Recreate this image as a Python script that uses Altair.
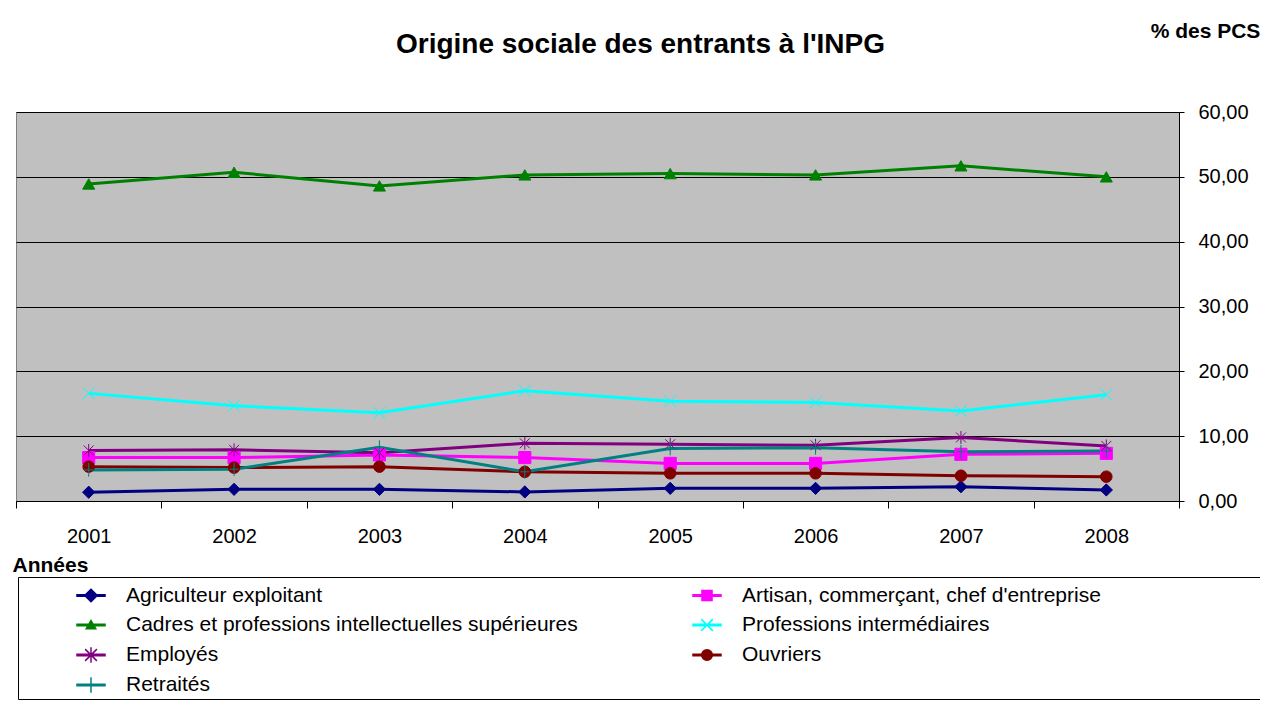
import altair as alt
import pandas as pd

annees = ["2001", "2002", "2003", "2004", "2005", "2006", "2007", "2008"]
series = [
    "Agriculteur exploitant",
    "Artisan, commerçant, chef d'entreprise",
    "Cadres et professions intellectuelles supérieures",
    "Professions intermédiaires",
    "Employés",
    "Ouvriers",
    "Retraités",
]
agriculteur = [1.35, 1.80, 1.80, 1.40, 1.95, 1.95, 2.20, 1.70]
artisan = [6.70, 6.70, 7.10, 6.70, 5.80, 5.80, 7.20, 7.35]
cadres = [48.90, 50.70, 48.60, 50.30, 50.50, 50.30, 51.70, 50.00]
prof_inter = [16.60, 14.70, 13.60, 17.00, 15.40, 15.20, 13.90, 16.40]
employes = [7.80, 7.90, 7.45, 8.90, 8.75, 8.60, 9.80, 8.50]
ouvriers = [5.30, 5.15, 5.30, 4.50, 4.27, 4.27, 3.90, 3.75]
retraites = [4.80, 4.90, 8.30, 4.50, 8.10, 8.20, 7.60, 7.70]

valeurs = [agriculteur, artisan, cadres, prof_inter, employes, ouvriers, retraites]
couleurs = ["#000080", "#FF00FF", "#008000", "#00FFFF", "#800080", "#800000", "#008080"]
remplissage = ["#000080", "#FF00FF", "#008000", "transparent", "transparent", "#800000", "transparent"]

formes = [
    "diamond",
    "square",
    "triangle-up",
    "M-1,-1L1,1M-1,1L1,-1",
    "M-0.85,-0.85L0.85,0.85M-0.85,0.85L0.85,-0.85M0,-1.1V1.1",
    "circle",
    "M-0.8,0H0.8M0,-1.2V1.2",
]
tailles = [150, 130, 110, 170, 190, 150, 190]
epaisseurs = [1, 1, 1, 1.5, 1.5, 1, 1.5]

trait = "M-1,-0.06H1V0.06H-1Z"
formes_legende = [
    trait + "M0,-0.45L0.45,0L0,0.45L-0.45,0Z",
    trait + "M-0.36,-0.36H0.36V0.36H-0.36Z",
    trait + "M0,-0.32L0.34,0.26H-0.34Z",
    trait + "M-0.42,-0.42L0.42,0.42M-0.42,0.42L0.42,-0.42",
    trait + "M-0.42,-0.42L0.42,0.42M-0.42,0.42L0.42,-0.42M0,-0.55V0.55",
    trait + "M-0.38,0A0.38,0.38,0,1,0,0.38,0A0.38,0.38,0,1,0,-0.38,0Z",
    trait + "M0,-0.55V0.55",
]

# legend is filled column by column: reorder so it reads row by row
ordre_legende = [0, 2, 4, 6, 1, 3, 5]
series_leg = [series[i] for i in ordre_legende]
couleurs_leg = [couleurs[i] for i in ordre_legende]
formes_leg = [formes_legende[i] for i in ordre_legende]

rows = []
for s, vals in zip(series, valeurs):
    for a, v in zip(annees, vals):
        rows.append({"annee": a, "valeur": v, "serie": s, "lg": s})
df = pd.DataFrame(rows)

FONT = "Liberation Sans"

x_enc = alt.X(
    "annee:O",
    sort=annees,
    scale=alt.Scale(type="band", paddingInner=0, paddingOuter=0),
    axis=alt.Axis(
        title="Années",
        titleX=-4,
        titleY=70,
        titleAlign="left",
        titleAnchor="start",
        titleBaseline="alphabetic",
        titleFontSize=21,
        titleFontWeight="bold",
        titleColor="black",
        labelAngle=0,
        labelFontSize=20,
        labelColor="black",
        labelPadding=18,
        tickBand="extent",
        tickSize=7,
        tickColor="black",
        domainColor="black",
        grid=False,
    ),
)
y_enc = alt.Y(
    "valeur:Q",
    scale=alt.Scale(domain=[0, 60]),
    axis=alt.Axis(
        orient="right",
        values=[0, 10, 20, 30, 40, 50, 60],
        grid=True,
        gridColor="black",
        gridWidth=1,
        domainColor="black",
        tickColor="black",
        tickSize=5,
        labelFontSize=20,
        labelColor="black",
        labelPadding=14,
        labelExpr="replace(format(datum.value, '.2f'), '.', ',')",
        title="% des PCS",
        titleAngle=0,
        titleX=26,
        titleY=-75,
        titleAlign="center",
        titleBaseline="alphabetic",
        titleFontSize=21,
        titleFontWeight="bold",
        titleColor="black",
    ),
)

base = alt.Chart(df).encode(x=x_enc, y=y_enc)

lignes = base.mark_line(strokeWidth=3).encode(
    color=alt.Color("serie:N", scale=alt.Scale(domain=series, range=couleurs), legend=None)
)

points = base.mark_point(opacity=1).encode(
    fill=alt.Fill("serie:N", scale=alt.Scale(domain=series, range=remplissage), legend=None),
    stroke=alt.Stroke("serie:N", scale=alt.Scale(domain=series, range=couleurs), legend=None),
    shape=alt.Shape("serie:N", scale=alt.Scale(domain=series, range=formes), legend=None),
    size=alt.Size("serie:N", scale=alt.Scale(domain=series, range=tailles), legend=None),
    strokeWidth=alt.StrokeWidth("serie:N", scale=alt.Scale(domain=series, range=epaisseurs), legend=None),
)

leg = alt.Legend(
    title="\u00a0",
    titleOrient="right",
    titleFontSize=1,
    titlePadding=185,
    orient="none",
    legendX=2,
    legendY=465,
    columns=2,
    columnPadding=59,
    rowPadding=4,
    padding=3,
    gridAlign="all",
    strokeColor="black",
    labelFontSize=21,
    labelColor="black",
    labelOffset=20,
    labelLimit=700,
    symbolSize=784,
    symbolOffset=55,
    symbolStrokeWidth=1.5,
    symbolOpacity=1,
)

legende = base.mark_point(opacity=0, size=784, filled=True).encode(
    fill=alt.Fill("lg:N", scale=alt.Scale(domain=series_leg, range=couleurs_leg), legend=leg),
    stroke=alt.Stroke("lg:N", scale=alt.Scale(domain=series_leg, range=couleurs_leg), legend=leg),
    shape=alt.Shape("lg:N", scale=alt.Scale(domain=series_leg, range=formes_leg), legend=leg),
)

chart = (
    alt.layer(lignes, points, legende)
    .resolve_scale(color="independent", fill="independent", stroke="independent",
                   shape="independent", size="independent", strokeWidth="independent")
    .properties(
        width=1163,
        height=389,
        autosize=alt.AutoSizeParams(type="none"),
        padding={"left": 8, "top": 104, "right": 81, "bottom": 199},
        title=alt.TitleParams(
            "Origine sociale des entrants à l'INPG",
            fontSize=28,
            fontWeight="bold",
            color="black",
            anchor="middle",
            frame="group",
            dx=43,
            offset=-61,
            baseline="alphabetic",
        ),
    )
    .configure(font=FONT, background="white")
    .configure_view(fill="#C0C0C0", stroke="#808080")
)

chart.save("out.html", embed_options={"renderer": "svg", "actions": False})
